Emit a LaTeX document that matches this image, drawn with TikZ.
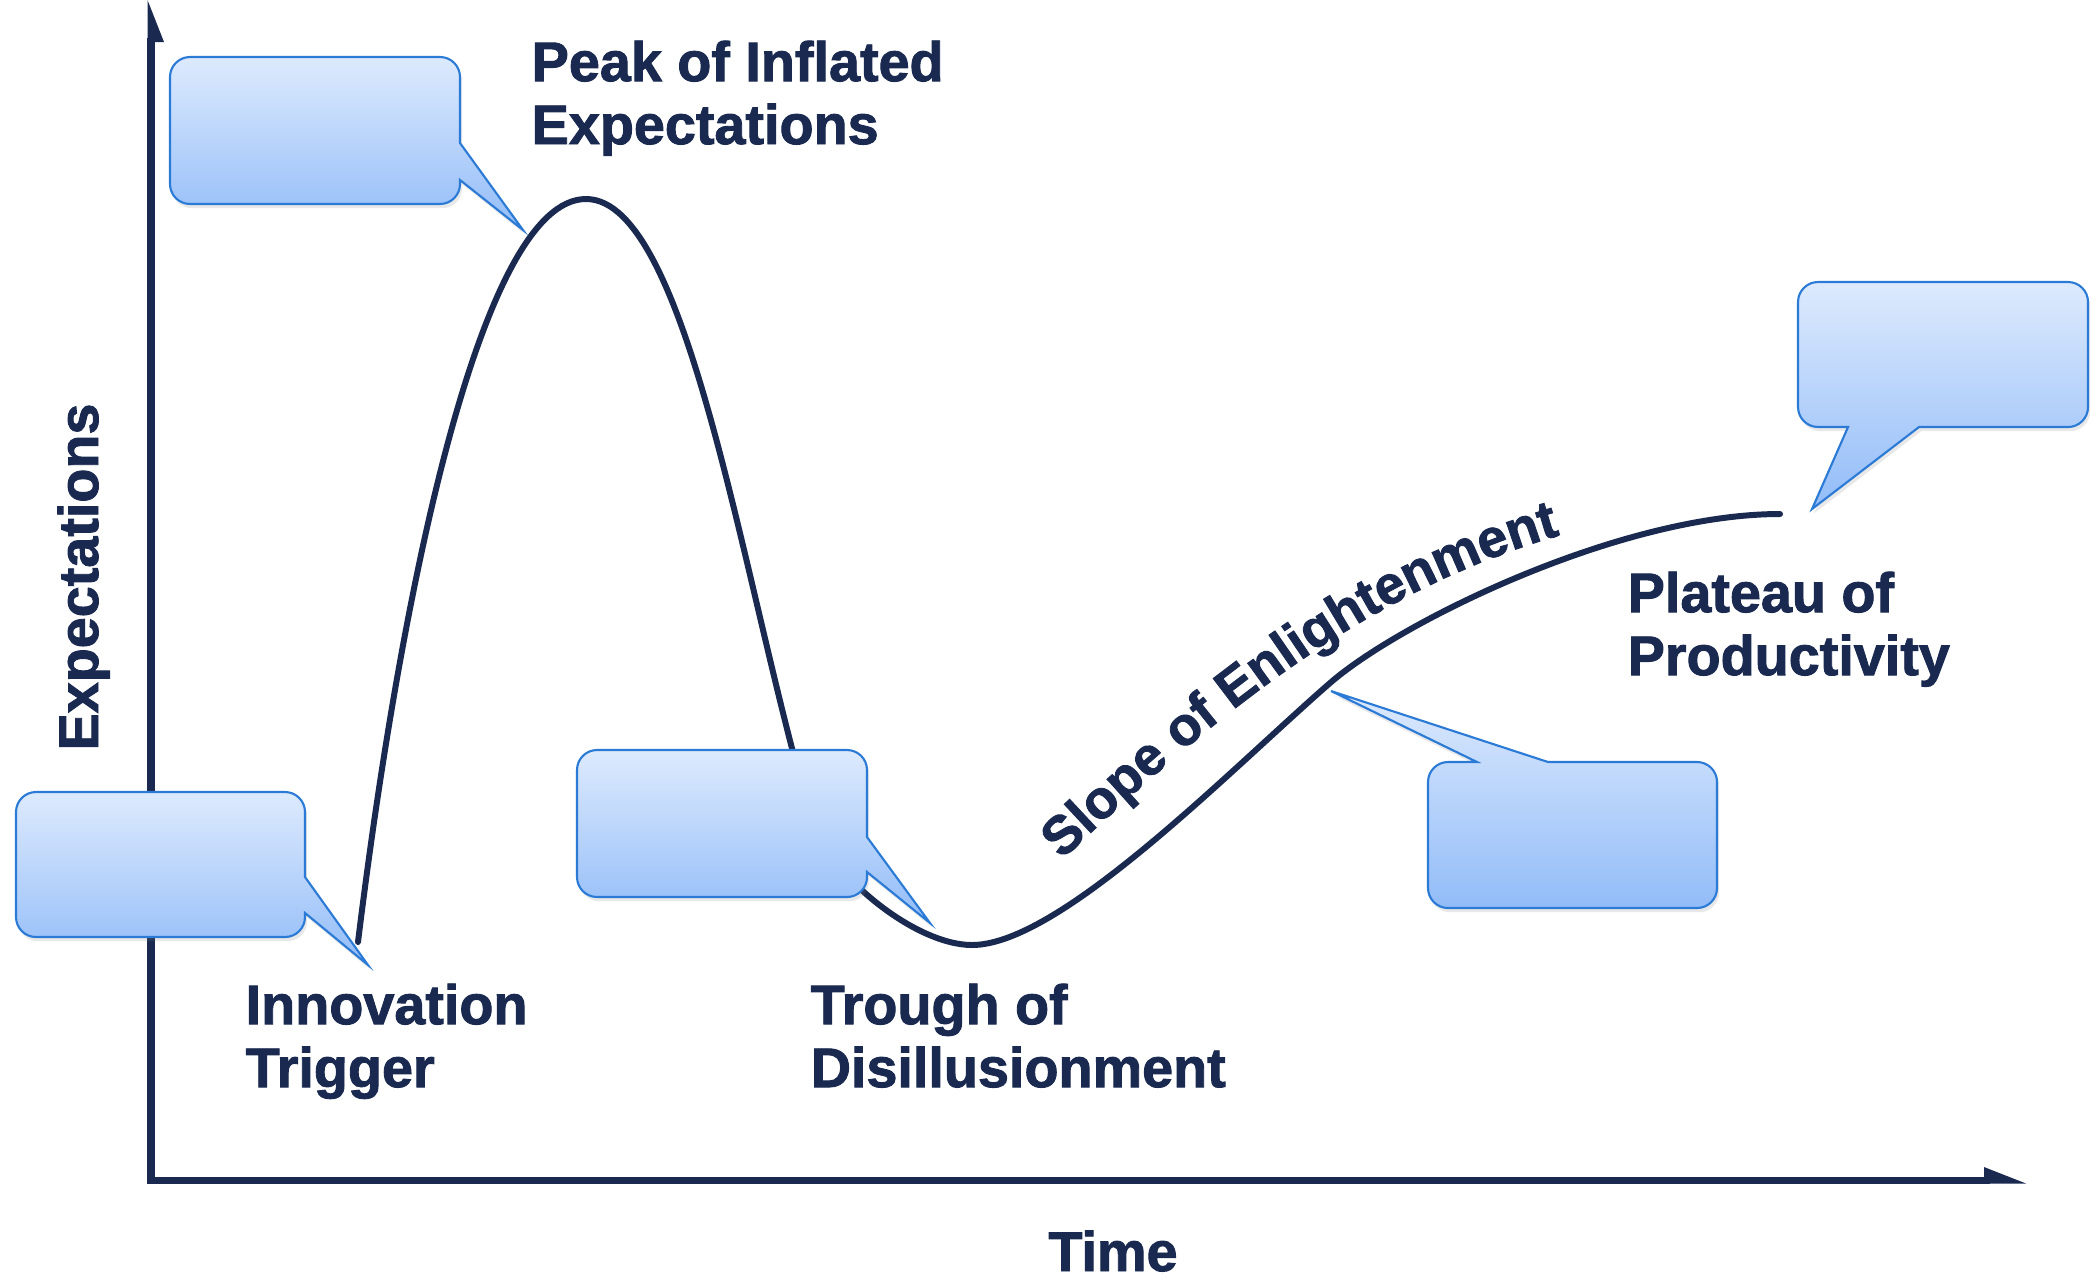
\documentclass[tikz,border=0pt]{standalone}
\usepackage{fontspec}
\setmainfont{Liberation Sans}[BoldFeatures={FakeBold=1.6}]
\usetikzlibrary{decorations.text,shadows}
\definecolor{navy}{RGB}{26,41,80}
\definecolor{cbord}{RGB}{43,123,214}
\definecolor{ctop}{RGB}{221,234,253}
\definecolor{cbot}{RGB}{146,188,248}
\newcommand\lblfont{\fontsize{15.85pt}{17.9pt}\selectfont\bfseries}
\newcommand\slopefont{\fontsize{15.3pt}{17.9pt}\selectfont\bfseries}
\begin{document}
\begin{tikzpicture}[x=0.01cm,y=-0.01cm,
  lbl/.style={font=\lblfont,text=navy,inner sep=0pt,align=left,anchor=north west},
  axislbl/.style={font=\lblfont,text=navy,inner sep=0pt},
  axisline/.style={draw=navy,line width=2pt,line join=miter},
  tipfill/.style={fill=navy},
  hype/.style={draw=navy,line width=1.7pt,line cap=round,line join=round},
  callout/.style={draw=cbord,line width=0.6pt,top color=ctop,bottom color=cbot,
    drop shadow={opacity=0.18,shadow xshift=0.6pt,shadow yshift=-1.2pt}}]
\useasboundingbox (0,0) rectangle (2098,1281);
\fill[white] (0,0) rectangle (2098,1281);

% axes
\coordinate (ytop) at (151,38);
\coordinate (origin) at (151,1180);
\coordinate (xend) at (1990,1180);
\draw[axisline] (ytop) -- (origin) -- (xend);
\fill[tipfill] (147.5,0) -- (164,42) -- (147.5,42) -- cycle;
\fill[tipfill] (1984,1167) -- (2026,1183.5) -- (1984,1183.5) -- cycle;

% hype curve
\coordinate (cstart) at (358,942);
\coordinate (cpeak) at (586,199);
\coordinate (cdrop) at (812,820);
\coordinate (ctrough) at (972,945);
\coordinate (cslope) at (1330,683);
\coordinate (cend) at (1780,514);
\draw[hype] (cstart) .. controls (400,600) and (480,199) .. (cpeak)
  .. controls (690,199) and (745,600) .. (cdrop)
  .. controls (829,875) and (915,945) .. (ctrough)
  .. controls (1060,945) and (1230,770) .. (cslope)
  .. controls (1400,622) and (1620,514) .. (cend);

% slope label along the curve
\coordinate (sstart) at (1062,860);
\coordinate (send) at (1620,520);
\path[decorate,decoration={text along path,text align=left,
  text={|\slopefont\color{navy}|Slope of Enlightenment}}]
  (sstart) .. controls (1250,680) and (1410,565) .. (send);

% callouts
\path[callout] (190,57) -- (440,57) arc[start angle=-90,end angle=0,radius=20]
  -- (460,143) -- (523,230) -- (460,180) -- (460,184) arc[start angle=0,end angle=90,radius=20]
  -- (190,204) arc[start angle=90,end angle=180,radius=20]
  -- (170,77) arc[start angle=180,end angle=270,radius=20] -- cycle;

\path[callout] (36,792) -- (285,792) arc[start angle=-90,end angle=0,radius=20]
  -- (305,877) -- (368,965) -- (305,913) -- (305,917) arc[start angle=0,end angle=90,radius=20]
  -- (36,937) arc[start angle=90,end angle=180,radius=20]
  -- (16,812) arc[start angle=180,end angle=270,radius=20] -- cycle;

\path[callout] (597,750) -- (847,750) arc[start angle=-90,end angle=0,radius=20]
  -- (867,837) -- (930,923) -- (867,872) -- (867,877) arc[start angle=0,end angle=90,radius=20]
  -- (597,897) arc[start angle=90,end angle=180,radius=20]
  -- (577,770) arc[start angle=180,end angle=270,radius=20] -- cycle;

\path[callout] (1448,762) -- (1477,762) -- (1331,691) -- (1548,762)
  -- (1697,762) arc[start angle=-90,end angle=0,radius=20]
  -- (1717,888) arc[start angle=0,end angle=90,radius=20]
  -- (1448,908) arc[start angle=90,end angle=180,radius=20]
  -- (1428,782) arc[start angle=180,end angle=270,radius=20] -- cycle;

\path[callout] (1818,282) -- (2068,282) arc[start angle=-90,end angle=0,radius=20]
  -- (2088,407) arc[start angle=0,end angle=90,radius=20]
  -- (1919,427) -- (1812,509) -- (1848,427)
  -- (1818,427) arc[start angle=90,end angle=180,radius=20]
  -- (1798,302) arc[start angle=180,end angle=270,radius=20] -- cycle;

% labels
\node[lbl] (peak) at (531,40) {Peak of Inflated\\Expectations};
\node[lbl] (innov) at (245,983) {Innovation\\Trigger};
\node[lbl] (trough) at (810,983) {Trough of\\Disillusionment};
\node[lbl] (plateau) at (1627,571) {Plateau of\\Productivity};
\node[axislbl,anchor=base] (time) at (1113,1271) {Time};
\node[axislbl,rotate=90,anchor=base] (expect) at (98,577) {Expectations};
\end{tikzpicture}
\end{document}
